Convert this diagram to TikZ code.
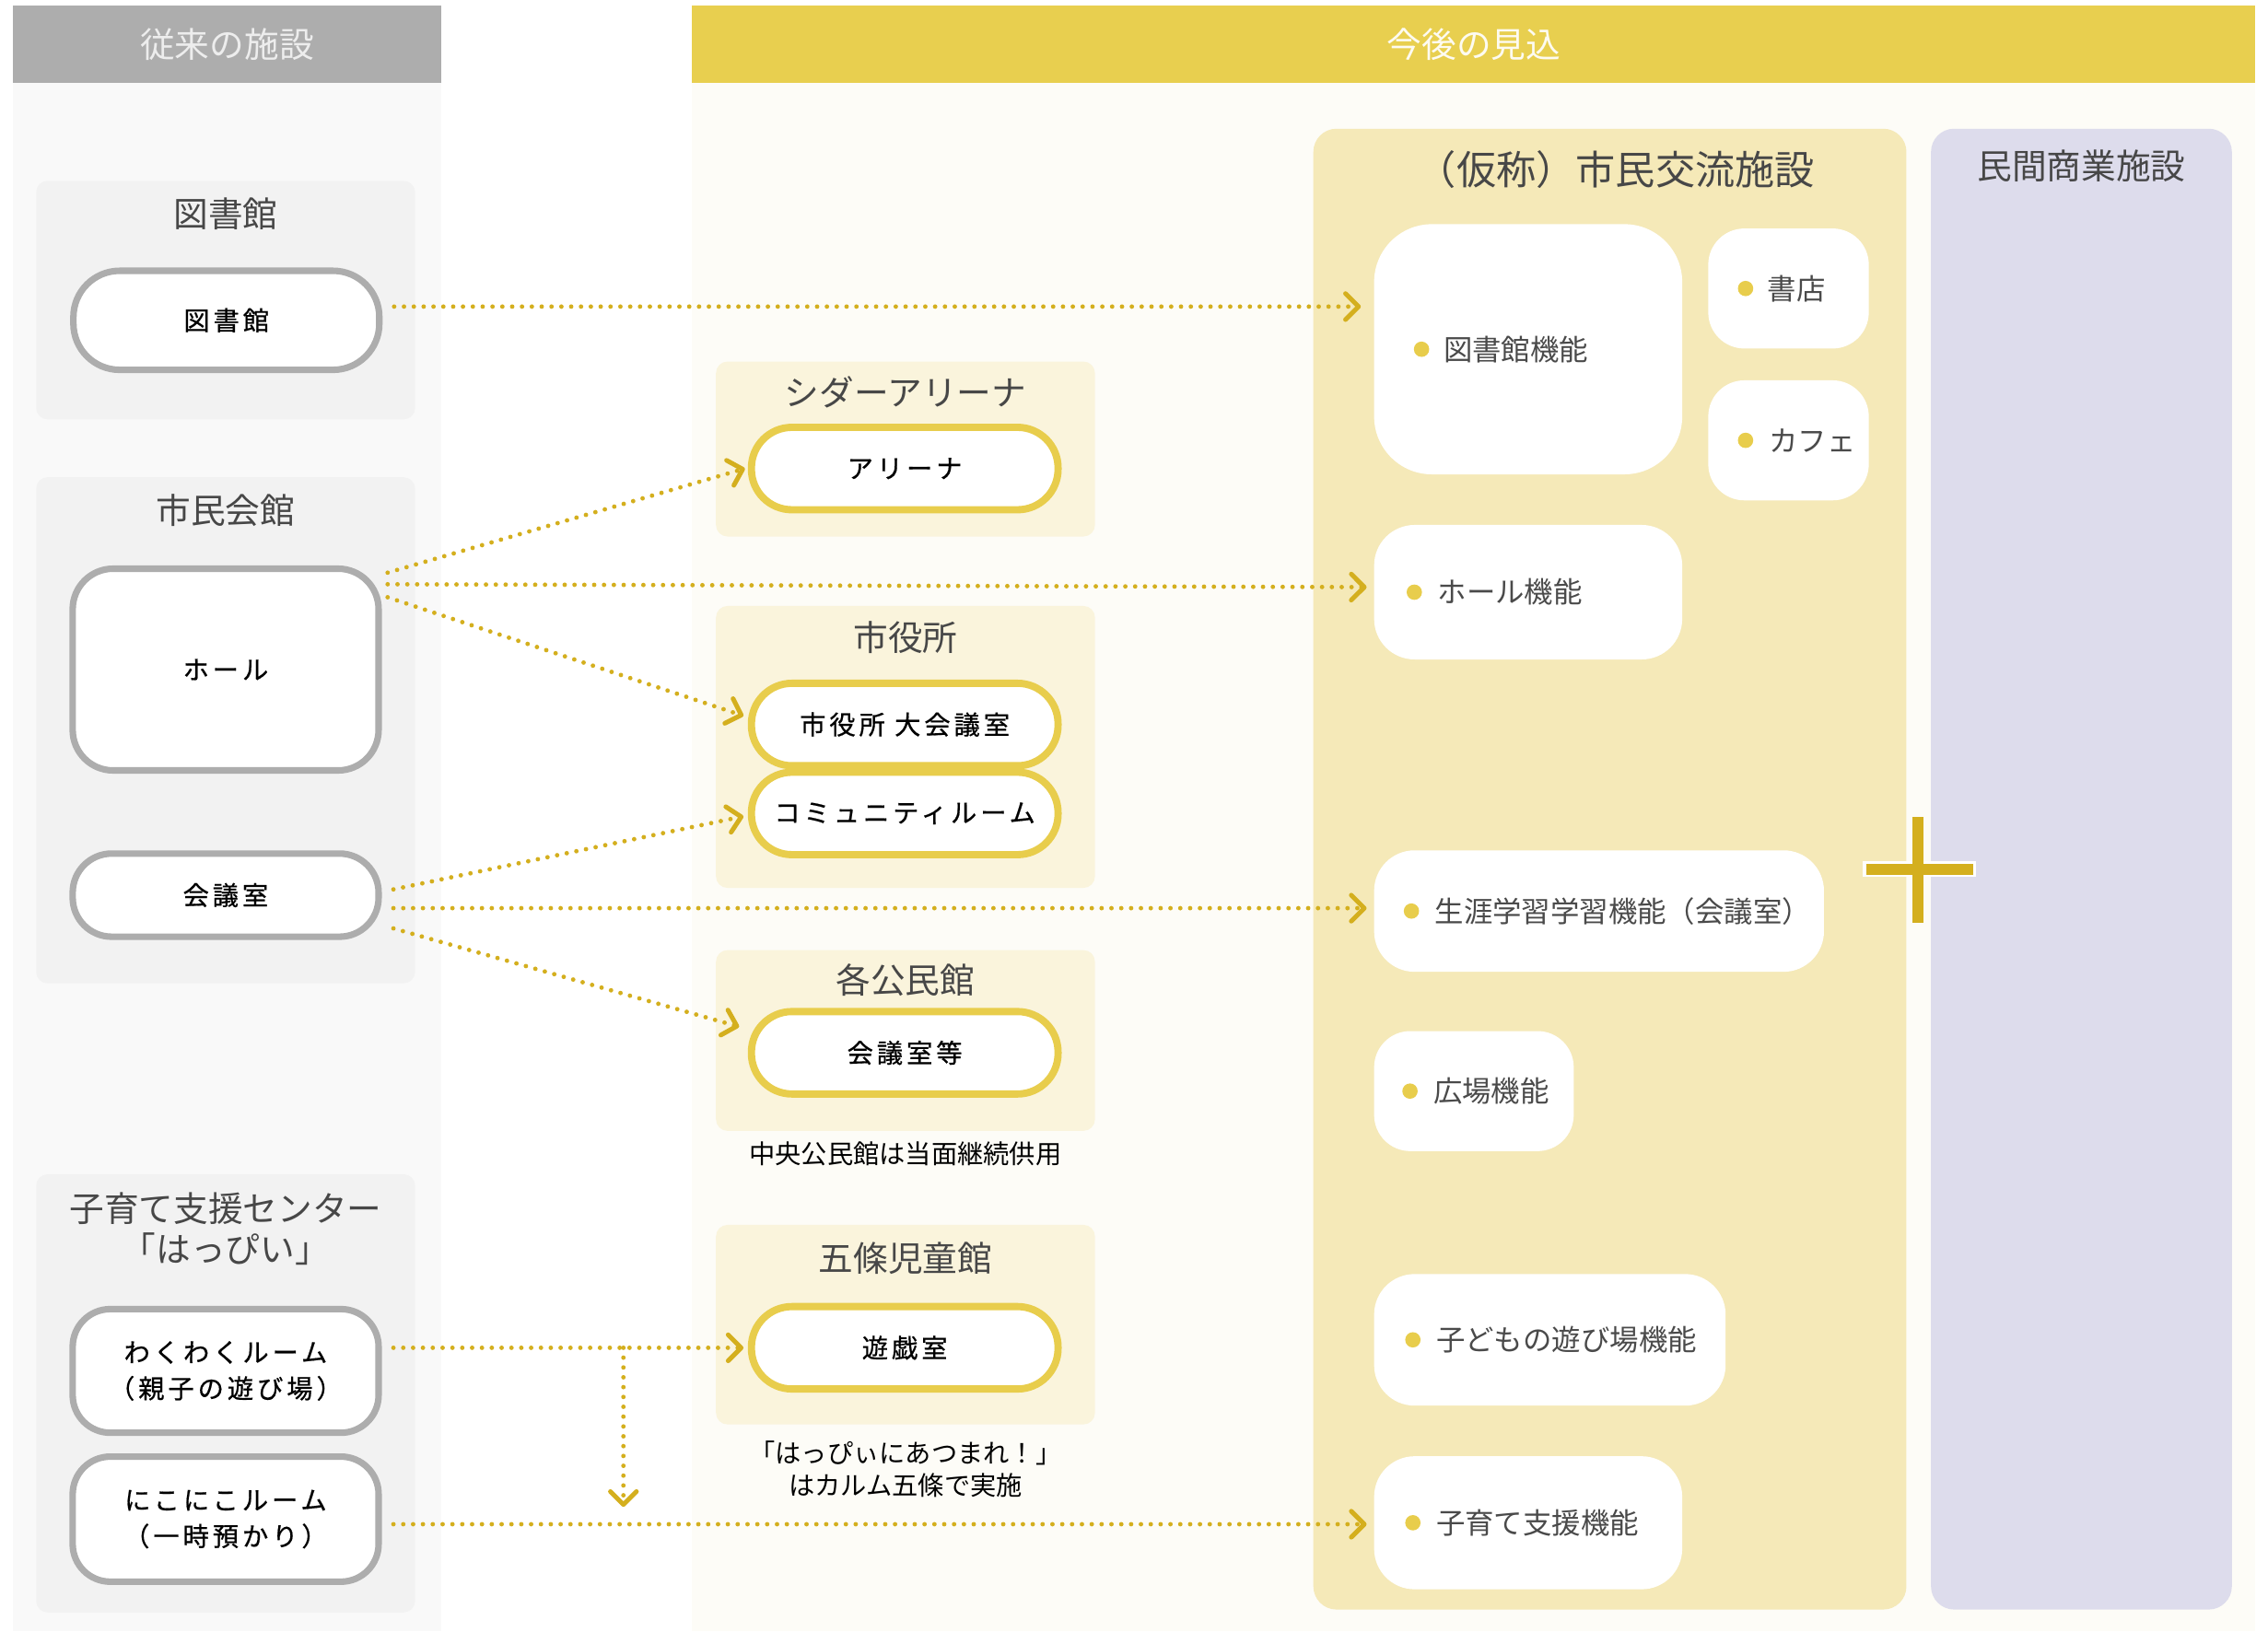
\documentclass[tikz,border=0pt]{standalone}
\usepackage{fontspec}
\setmainfont{Noto Sans CJK JP}
\newfontfamily\boxfont[LetterSpace=14,FakeBold=0.6]{Noto Sans CJK JP}
\usetikzlibrary{arrows.meta,calc}
\definecolor{hdrgrey}{HTML}{ADADAD}
\definecolor{hdrylw}{HTML}{E8CF4F}
\definecolor{lpanel}{HTML}{F9F9F9}
\definecolor{rpanel}{HTML}{FDFCF7}
\definecolor{grpgrey}{HTML}{F2F2F2}
\definecolor{grpcream}{HTML}{FAF4DC}
\definecolor{bigylw}{HTML}{F5E9B8}
\definecolor{lilac}{HTML}{DDDCEC}
\definecolor{ylwline}{HTML}{E8CD4C}
\definecolor{gold}{HTML}{D4AF1E}
\definecolor{titlec}{HTML}{474747}
\definecolor{labc}{HTML}{4A4A4A}
\begin{document}
\begin{tikzpicture}[x=1pt,y=-1pt,
  gtitle/.style={text=titlec,font=\fontsize{24}{28}\selectfont,inner sep=0pt,align=center},
  htitle/.style={font=\fontsize{24}{28}\selectfont,inner sep=0pt},
  gbox/.style={draw=hdrgrey,line width=4.5pt,fill=white,minimum width=211.5pt,text=black,
    font=\boxfont\fontsize{18}{25}\selectfont,align=center,inner sep=0pt},
  ybox/.style={draw=ylwline,line width=5pt,fill=white,minimum width=212pt,minimum height=57pt,
    rounded corners=28pt,text=black,font=\boxfont\fontsize{18}{25}\selectfont,inner sep=0pt},
  wbox/.style={fill=white,inner sep=0pt,rounded corners=28pt},
  flabel/.style={anchor=west,text=labc,font=\fontsize{20}{24}\selectfont,inner sep=0pt},
  note/.style={text=black,font=\fontsize{18}{22}\selectfont,inner sep=0pt,align=center},
  fdot/.style={fill=ylwline},
  arr/.style={draw=gold,line width=3.1pt,line cap=round,dash pattern=on 0pt off 6.8pt,
    -{Straight Barb[length=9pt,width=18pt,line width=3.2pt,round]}}
]
\useasboundingbox (0,0) rectangle (1568,1128);
\fill[white] (0,0) rectangle (1568,1128);
% column panels
\fill[lpanel] (9,57) rectangle (305,1128);
\fill[hdrgrey] (9,4) rectangle (305,57);
\fill[rpanel] (478,57) rectangle (1559,1128);
\fill[hdrylw] (478,4) rectangle (1559,57);
\node[htitle,text=white!93!black] (h1) at (157,31) {従来の施設};
\node[htitle,text=white!92!hdrylw] (h2) at (1019,31) {今後の見込};
% left groups
\fill[grpgrey,rounded corners=8pt] (25,125) rectangle (287,290);
\fill[grpgrey,rounded corners=8pt] (25,330) rectangle (287,680);
\fill[grpgrey,rounded corners=8pt] (25,812) rectangle (287,1115);
\node[gtitle] (t1) at (156,148) {図書館};
\node[gtitle] (t2) at (156,353) {市民会館};
\node[gtitle] (t3) at (156,850) {子育て支援センター\\「はっぴい」};
\node[gbox,minimum height=68.5pt,rounded corners=32pt] (lib) at (156.5,221.5) {図書館};
\node[gbox,minimum height=139.5pt,rounded corners=28pt] (hall) at (156,463) {ホール};
\node[gbox,minimum height=57.5pt,rounded corners=27pt] (kaigi) at (156,619) {会議室};
\node[gbox,minimum height=85.5pt,rounded corners=26pt] (waku) at (156,948) {わくわくルーム\\（親子の遊び場）};
\node[gbox,minimum height=86.5pt,rounded corners=26pt] (niko) at (156,1050.5) {にこにこルーム\\（一時預かり）};
% middle groups
\fill[grpcream,rounded corners=8pt] (495,250) rectangle (757,371);
\fill[grpcream,rounded corners=8pt] (495,419) rectangle (757,614);
\fill[grpcream,rounded corners=8pt] (495,657) rectangle (757,782);
\fill[grpcream,rounded corners=8pt] (495,847) rectangle (757,985);
\node[gtitle] (m1) at (626,271) {シダーアリーナ};
\node[gtitle] (m2) at (626,441) {市役所};
\node[gtitle] (m3) at (626,678) {各公民館};
\node[gtitle] (m4) at (626,870) {五條児童館};
\node[ybox] (arena) at (625.5,324) {アリーナ};
\node[ybox] (daikaigi) at (625.5,501) {市役所 大会議室};
\node[ybox] (comm) at (625.5,562.5) {コミュニティルーム};
\node[ybox] (kaigitou) at (625.5,728) {会議室等};
\node[ybox] (yugi) at (625.5,932) {遊戯室};
\node[note] (n1) at (626,798) {中央公民館は当面継続供用};
\node[note] (n2) at (626,1016) {「はっぴぃにあつまれ！」\\はカルム五條で実施};
% right panels
\fill[bigylw,rounded corners=16pt] (908,89) rectangle (1318,1113);
\fill[lilac,rounded corners=16pt] (1335,89) rectangle (1543,1113);
\node[text=titlec,font=\fontsize{27.5}{32}\selectfont,inner sep=0pt] (r1) at (1117,117) {（仮称）市民交流施設};
\node[text=titlec,font=\fontsize{24}{28}\selectfont,inner sep=0pt] (r2) at (1439,115) {民間商業施設};
% function boxes
\node[wbox,minimum width=213pt,minimum height=173pt,rounded corners=40pt] (libf) at (1056.5,241.5) {};
\node[wbox,minimum width=111pt,minimum height=83pt,rounded corners=25pt] (shoten) at (1236.5,199.5) {};
\node[wbox,minimum width=111pt,minimum height=83pt,rounded corners=25pt] (cafe) at (1236.5,304.5) {};
\node[wbox,minimum width=213pt,minimum height=93pt] (hallf) at (1056.5,409.5) {};
\node[wbox,minimum width=311pt,minimum height=84pt] (shogai) at (1105.5,630) {};
\node[wbox,minimum width=138pt,minimum height=83pt,rounded corners=25pt] (hiroba) at (1019,754.5) {};
\node[wbox,minimum width=243pt,minimum height=91pt] (kodomo) at (1071.5,926.5) {};
\node[wbox,minimum width=213pt,minimum height=92pt] (kosodate) at (1056.5,1053) {};
\fill[fdot] ($(libf.west)+(33,0)$) circle (5.3);
\node[flabel] (libft) at ($(libf.west)+(48,0)$) {図書館機能};
\fill[fdot] ($(shoten.west)+(26,0)$) circle (5.3);
\node[flabel] (shotent) at ($(shoten.west)+(41,0)$) {書店};
\fill[fdot] ($(cafe.west)+(26,0)$) circle (5.3);
\node[flabel] (cafet) at ($(cafe.west)+(42,0)$) {カフェ};
\fill[fdot] ($(hallf.west)+(28,0)$) circle (5.3);
\node[flabel] (hallft) at ($(hallf.west)+(44,0)$) {ホール機能};
\fill[fdot] ($(shogai.west)+(26,0)$) circle (5.3);
\node[flabel] (shogait) at ($(shogai.west)+(42,0)$) {生涯学習学習機能（会議室）};
\fill[fdot] ($(hiroba.west)+(25,0)$) circle (5.3);
\node[flabel] (hirobat) at ($(hiroba.west)+(41,0)$) {広場機能};
\fill[fdot] ($(kodomo.west)+(27,0)$) circle (5.3);
\node[flabel] (kodomot) at ($(kodomo.west)+(43,0)$) {子どもの遊び場機能};
\fill[fdot] ($(kosodate.west)+(27,0)$) circle (5.3);
\node[flabel] (kosodatet) at ($(kosodate.west)+(43,0)$) {子育て支援機能};
% plus sign
\draw[white,line width=11pt] (1288,601) -- (1366,601);
\draw[gold,line width=7.5pt] (1290,601) -- (1364,601);
\draw[gold,line width=7.5pt] (1326,565) -- (1326,638);
% connectors
\draw[arr] ($(lib.east)+(8,-9.5)$) -- ($(libf.west)+(-9,-29.5)$);
\draw[arr] ($(hall.north east)+(4,5)$) -- ($(arena.west)+(-2,0)$);
\draw[arr] ($(hall.north east)+(4,13)$) -- ($(hallf.west)+(-5,-3.5)$);
\draw[arr] ($(hall.north east)+(4,22)$) -- ($(daikaigi.west)+(-3,-6)$);
\draw[arr] ($(kaigi.east)+(8,-4)$) -- ($(comm.west)+(-3,2)$);
\draw[arr] ($(kaigi.east)+(8,9)$) -- ($(shogai.west)+(-5,-2)$);
\draw[arr] ($(kaigi.east)+(8,23)$) -- ($(kaigitou.west)+(-6,-18)$);
\draw[arr] ($(waku.east)+(8,-16)$) -- ($(yugi.west)+(-3,0)$);
\coordinate (br) at ($(waku.east)+(167,-16)$);
\coordinate (brend) at ($(br)+(0,110)$);
\draw[arr] (br) -- (brend);
\draw[arr] ($(niko.east)+(8,3.5)$) -- ($(kosodate.west)+(-5,1)$);
\end{tikzpicture}
\end{document}
